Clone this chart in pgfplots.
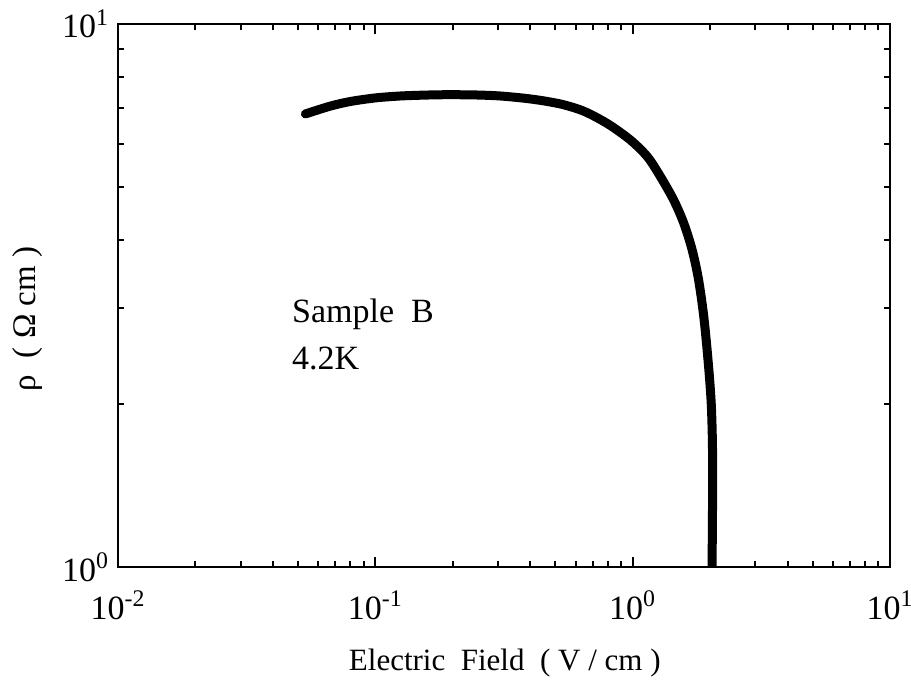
\documentclass[border=0pt]{standalone}
\usepackage{fontspec}
\setmainfont{Liberation Serif}
\usepackage{pgfplots}
\pgfplotsset{compat=1.18}
\begin{document}
\begin{tikzpicture}
\useasboundingbox (0,0) rectangle (455.5pt,343pt);
\begin{axis}[
  at={(59pt,59.5pt)}, anchor=south west,
  width=386pt, height=271.5pt, scale only axis,
  xmode=log, ymode=log,
  xmin=0.01, xmax=10, ymin=1, ymax=10,
  axis line style={line width=1.4pt},
  tick align=inside,
  every tick/.style={black, line width=1pt},
  major tick length=5pt, minor tick length=3pt,
  xtick={0.01,0.1,1,10},
  xticklabels={10\textsuperscript{-2},10\textsuperscript{-1},10\textsuperscript{0},10\textsuperscript{1}},
  minor xtick={0.02,0.03,0.04,0.05,0.06,0.07,0.08,0.09,0.2,0.3,0.4,0.5,0.6,0.7,0.8,0.9,2,3,4,5,6,7,8,9},
  ytick={1,10},
  yticklabels={10\textsuperscript{0},10\textsuperscript{1}},
  minor ytick={2,3,4,5,6,7,8,9},
  every tick label/.append style={font=\fontsize{17}{20}\selectfont},
  xticklabel style={yshift=-8.5pt},
  yticklabel style={xshift=-1pt},
  xlabel={Electric\ \ Field\ \ ( V / cm )},
  ylabel={ρ\ \ ( Ω cm )},
  xlabel style={font=\fontsize{15.5}{18}\selectfont, at={(axis description cs:0.501,-0.177)}, anchor=center},
  ylabel style={font=\fontsize{16.5}{19}\selectfont, at={(axis description cs:-0.1166,0.457)}, anchor=center},
  clip=true,
]
\addplot[black, line width=4.5pt, line cap=round, line join=round, smooth] coordinates {
(0.0535,6.83)
(0.0668,7.06)
(0.080,7.20)
(0.100,7.31)
(0.125,7.37)
(0.160,7.40)
(0.196,7.41)
(0.250,7.40)
(0.306,7.37)
(0.380,7.30)
(0.450,7.22)
(0.540,7.10)
(0.650,6.90)
(0.800,6.55)
(0.982,6.11)
(1.143,5.69)
(1.284,5.23)
(1.444,4.74)
(1.579,4.30)
(1.700,3.85)
(1.800,3.40)
(1.890,2.89)
(1.970,2.36)
(2.020,2.00)
(2.042,1.68)
(2.045,1.38)
(2.035,1.0)
};
\node[anchor=base west, inner sep=0pt, font=\fontsize{17}{20}\selectfont] at (axis description cs:0.225,0.451) {Sample\ \ B};
\node[anchor=base west, inner sep=0pt, font=\fontsize{17}{20}\selectfont] at (axis description cs:0.225,0.363) {4.2K};
\end{axis}
\end{tikzpicture}
\end{document}
